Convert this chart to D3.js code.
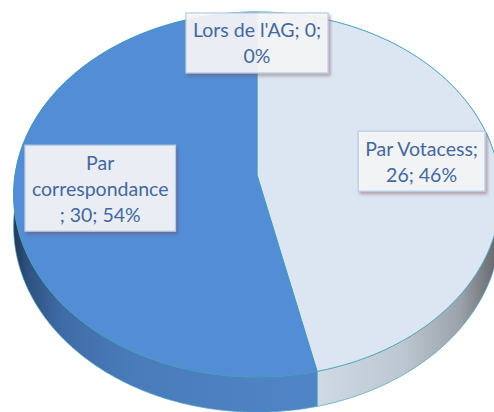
<!DOCTYPE html>
<html>
<head>
<meta charset="utf-8">
<script src="https://cdn.jsdelivr.net/npm/d3@7"></script>
<style>
  html, body { margin: 0; padding: 0; background: #fff; }
  svg { display: block; }
</style>
</head>
<body>
<div id="chart"></div>
<script>
// data
var categories = ["Par Votacess", "Par correspondance", "Lors de l'AG"]
var values = [26, 30, 0]

var topColors = ["#dce6f2", "#538dd5", "#538dd5"]

var width = 494, height = 412

// 3d pie geometry (perspective ellipse)
var cx = 257, cy = 175, A = 242, B = 180.4, k = -0.1068, D = 31.4

var labelR = [0.69, 0.647, 0.794]

function proj(theta, r, depth) {
    var X = r * Math.sin(theta), Z = -r * Math.cos(theta)
    var w = 1 + k * Z
    return [cx + A * X / w, cy + (B * Z + D * depth) / w]
}

function arcPoints(a0, a1, depth) {
    var n = Math.max(2, Math.ceil(Math.abs(a1 - a0) / 0.01))
    var pts = []
    for (var i = 0; i <= n; i++) pts.push(proj(a0 + (a1 - a0) * i / n, 1, depth))
    return pts
}

var svg = d3.select("#chart").append("svg")
    .attr("width", width)
    .attr("height", height)

var defs = svg.append("defs")

// wall gradients
var gBlue = defs.append("linearGradient").attr("id", "wallBlue")
    .attr("gradientUnits", "userSpaceOnUse")
    .attr("x1", 14).attr("x2", 500).attr("y1", 0).attr("y2", 0)
gBlue.selectAll("stop").data([
    [0, "#22395a"], [0.03, "#2f5282"], [0.1, "#3f6ca6"], [0.25, "#4a7cbb"], [0.6, "#4f84c6"], [1, "#4f84c6"]
]).enter().append("stop").attr("offset", d => d[0]).attr("stop-color", d => d[1])

var gLight = defs.append("linearGradient").attr("id", "wallLight")
    .attr("gradientUnits", "userSpaceOnUse")
    .attr("x1", 14).attr("x2", 500).attr("y1", 0).attr("y2", 0)
gLight.selectAll("stop").data([
    [0, "#d2dce7"], [0.62, "#d0dae5"], [0.8, "#bdc7d1"], [0.92, "#9aa1a9"], [0.98, "#6f7378"], [1, "#5e6166"]
]).enter().append("stop").attr("offset", d => d[0]).attr("stop-color", d => d[1])

var shadow = defs.append("filter").attr("id", "shadow")
    .attr("x", "-20%").attr("y", "-20%").attr("width", "140%").attr("height", "140%")
shadow.append("feDropShadow")
    .attr("dx", 2).attr("dy", 2.5).attr("stdDeviation", 1.5)
    .attr("flood-color", "#7a4050").attr("flood-opacity", 0.45)

var pie = d3.pie().sort(null).value(d => d)
var arcs = pie(values)
var total = d3.sum(values)
var pct = d3.scaleLinear().domain([0, total]).range([0, 100])

var line = d3.line()

// walls
var wallFill = ["url(#wallLight)", "url(#wallBlue)", "url(#wallBlue)"]
svg.append("g").selectAll("path")
    .data(arcs.filter(d => d.endAngle > d.startAngle))
    .enter().append("path")
    .attr("d", d => {
        var top = arcPoints(d.startAngle, d.endAngle, 0)
        var bot = arcPoints(d.endAngle, d.startAngle, 1)
        return line(top.concat(bot)) + "Z"
    })
    .attr("fill", d => wallFill[d.index])
    .attr("stroke", "#4aa3b8")
    .attr("stroke-width", 0.7)

// top faces
svg.append("g").selectAll("path")
    .data(arcs.filter(d => d.endAngle > d.startAngle))
    .enter().append("path")
    .attr("d", d => line([[cx, cy]].concat(arcPoints(d.startAngle, d.endAngle, 0))) + "Z")
    .attr("fill", d => topColors[d.index])
    .attr("stroke", "#3f9db3")
    .attr("stroke-width", 0.8)
    .attr("stroke-linejoin", "round")

// labels
var fontSize = 19.5, lineH = 26
var labels = svg.append("g")
    .style("font-family", "Lato, 'Open Sans', sans-serif")
    .style("font-size", fontSize + "px")

var measure = labels.append("text").attr("x", -1000).attr("y", -1000)
function textW(s) { measure.text(s); return measure.node().getComputedTextLength() }
var maxW = textW("correspondance") + 1

function wrap(str) {
    var words = str.split(" ")
    var lines = [], cur = ""
    for (var i = 0; i < words.length; i++) {
        var w = words[i]
        var test = cur ? cur + " " + w : w
        if (textW(test) <= maxW) { cur = test; continue }
        if (cur) { lines.push(cur); cur = w }
        else cur = w
        if (textW(cur) > maxW && /;$/.test(cur)) {
            lines.push(cur.slice(0, -1))
            cur = ";"
        }
    }
    if (cur) lines.push(cur)
    return lines
}

arcs.forEach(d => {
    var i = d.index
    var str = categories[i] + "; " + values[i] + "; " + Math.round(pct(values[i])) + "%"
    var lines = wrap(str)
    var mid = (d.startAngle + d.endAngle) / 2
    if (d.endAngle === d.startAngle) mid = 0
    var p = proj(mid, labelR[i], 0)
    var tw = d3.max(lines, l => textW(l))
    var bw = tw + 14, bh = lines.length * lineH + 8
    var g = labels.append("g")
    g.append("rect")
        .attr("x", p[0] - bw / 2).attr("y", p[1] - bh / 2)
        .attr("width", bw).attr("height", bh)
        .attr("fill", "#f7f8fa").attr("fill-opacity", 0.9)
        .attr("stroke", "#b8cce4").attr("stroke-width", 1.2)
        .attr("filter", "url(#shadow)")
    g.selectAll("text").data(lines).enter().append("text")
        .attr("x", p[0])
        .attr("y", (l, j) => p[1] + (j - (lines.length - 1) / 2) * lineH)
        .attr("text-anchor", "middle")
        .attr("dominant-baseline", "central")
        .attr("fill", "#44689f")
        .text(l => l)
})
measure.remove()
</script>
</body>
</html>
